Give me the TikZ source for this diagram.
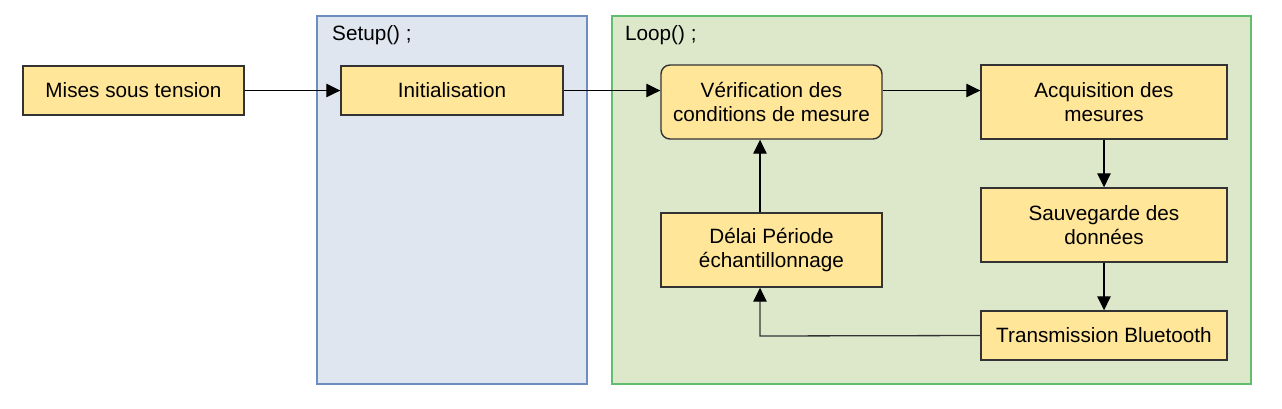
\documentclass[tikz,border=0pt]{standalone}
\usepackage{fontspec}
\setmainfont{Liberation Sans}
\usetikzlibrary{arrows.meta}
\definecolor{nodefill}{HTML}{FFE699}
\definecolor{nodeline}{HTML}{333333}
\definecolor{setupfill}{HTML}{DFE6EF}
\definecolor{setupline}{HTML}{6C8EBF}
\definecolor{loopfill}{HTML}{DDE8CB}
\definecolor{loopline}{HTML}{62BD6D}
\tikzset{
  stepbox/.style={draw=nodeline, fill=nodefill, line width=1.4pt, inner sep=0pt,
    align=center, font=\fontsize{20.7}{23.5}\selectfont},
  container/.style={line width=1.3pt},
  conn/.style={line width=1.3pt, -{Triangle[length=14pt,width=13.5pt,color=black]}},
  title/.style={anchor=west, inner sep=0pt, font=\fontsize{20.7}{23.5}\selectfont}
}
\begin{document}
\begin{tikzpicture}[x=1pt,y=-1pt]
\useasboundingbox (0,0) rectangle (1282,408);
\fill[white] (0,0) rectangle (1282,408);
% containers
\draw[container, draw=setupline, fill=setupfill] (317,16) rectangle (587,384);
\draw[container, draw=loopline, fill=loopfill] (612,16) rectangle (1251,384);
\node[title] (setuplbl) at (332,35) {Setup() ;};
\node[title] (looplbl) at (625,35) {Loop() ;};
% nodes
\node[stepbox, minimum width=221pt, minimum height=49pt] (mises) at (133.5,90.5) {Mises sous tension};
\node[stepbox, minimum width=222pt, minimum height=49pt] (init) at (452,90.5) {Initialisation};
\node[stepbox, rounded corners=9pt, minimum width=221pt, minimum height=74pt] (verif) at (771.5,102) {Vérification des\\conditions de mesure};
\node[stepbox, minimum width=246pt, minimum height=74pt] (acq) at (1104,102) {Acquisition des\\mesures};
\node[stepbox, minimum width=246pt, minimum height=74pt] (sauv) at (1104,225) {Sauvegarde des\\données};
\node[stepbox, minimum width=246pt, minimum height=49pt] (trans) at (1104,335.5) {Transmission Bluetooth};
\node[stepbox, minimum width=221pt, minimum height=74pt] (delai) at (771.5,250) {Délai Période\\échantillonnage};
\coordinate (c) at (760,336);
% connectors
\draw[conn] (mises.east) -- (init.west);
\draw[conn] (init.east) -- (verif.west |- init.east);
\draw[conn] (verif.east |- init.east) -- (acq.west |- init.east);
\draw[conn] (acq.south) -- (sauv.north);
\draw[conn] (sauv.south) -- (trans.north);
\draw[conn, draw=nodeline] (trans.west) -- (c) -- (c |- delai.south);
\draw[conn] (c |- delai.north) -- (c |- verif.south);
\end{tikzpicture}
\end{document}
